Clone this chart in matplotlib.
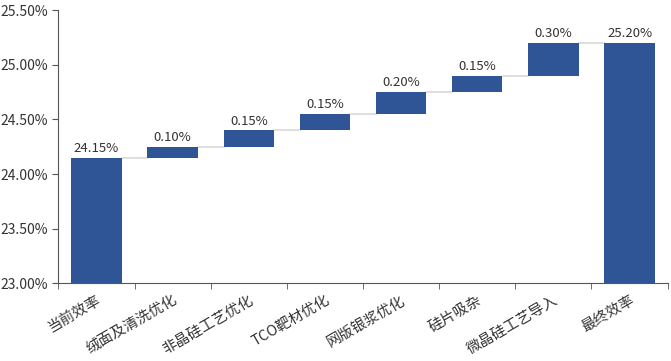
import matplotlib.pyplot as plt
from matplotlib.ticker import FuncFormatter

plt.rcParams['font.family'] = ['Noto Sans CJK SC', 'DejaVu Sans']

# 数据
categories = ['当前效率', '绒面及清洗优化', '非晶硅工艺优化', 'TCO靶材优化',
              '网版银浆优化', '硅片吸杂', '微晶硅工艺导入', '最终效率']
values = [24.15, 0.10, 0.15, 0.15, 0.20, 0.15, 0.30, 25.20]
labels = ['24.15%', '0.10%', '0.15%', '0.15%', '0.20%', '0.15%', '0.30%', '25.20%']

base = 23.0
color = '#2F5597'

fig, ax = plt.subplots(figsize=(6.71, 3.61), dpi=100)
fig.subplots_adjust(left=0.087, right=0.995, top=0.972, bottom=0.215)

# 막대 아래/높이 계산
bottoms = []
heights = []
tops = []
level = 0
for i, v in enumerate(values):
    if i == 0 or i == len(values) - 1:
        bottoms.append(base)
        heights.append(v - base)
        level = v
    else:
        bottoms.append(level)
        heights.append(v)
        level = level + v
    tops.append(bottoms[-1] + heights[-1])

x = list(range(len(categories)))
w = 0.66
ax.bar(x, heights, bottom=bottoms, width=w, color=color, zorder=3)

# 연결선
for i in range(len(x) - 1):
    ax.plot([x[i] + w / 2, x[i + 1] - w / 2], [tops[i], tops[i]],
            color='#d9d9d9', lw=1.2, zorder=2)

for i in range(len(x)):
    ax.text(x[i], tops[i] + 0.025, labels[i], ha='center', va='bottom',
            fontsize=9.5, color='#333333')

ax.set_xlim(-0.5, len(x) - 0.5)
ax.set_ylim(23.0, 25.5)
ax.set_yticks([23.0, 23.5, 24.0, 24.5, 25.0, 25.5])
ax.yaxis.set_major_formatter(FuncFormatter(lambda v, p: '%.2f%%' % v))

ax.set_xticks(x)
ax.set_xticklabels(categories, rotation=30, ha='right', rotation_mode='anchor',
                   fontsize=10.5, color='#333333')
ax.set_xticks([i - 0.5 for i in range(len(x) + 1)], minor=True)
ax.tick_params(axis='x', which='major', length=0, pad=7)
ax.tick_params(axis='x', which='minor', length=4, color='#555555')
ax.tick_params(axis='y', length=4, labelsize=10, labelcolor='#333333', color='#555555')

for s in ['top', 'right']:
    ax.spines[s].set_visible(False)
ax.spines['left'].set_color('#555555')
ax.spines['bottom'].set_color('#555555')

plt.savefig('out.png')
